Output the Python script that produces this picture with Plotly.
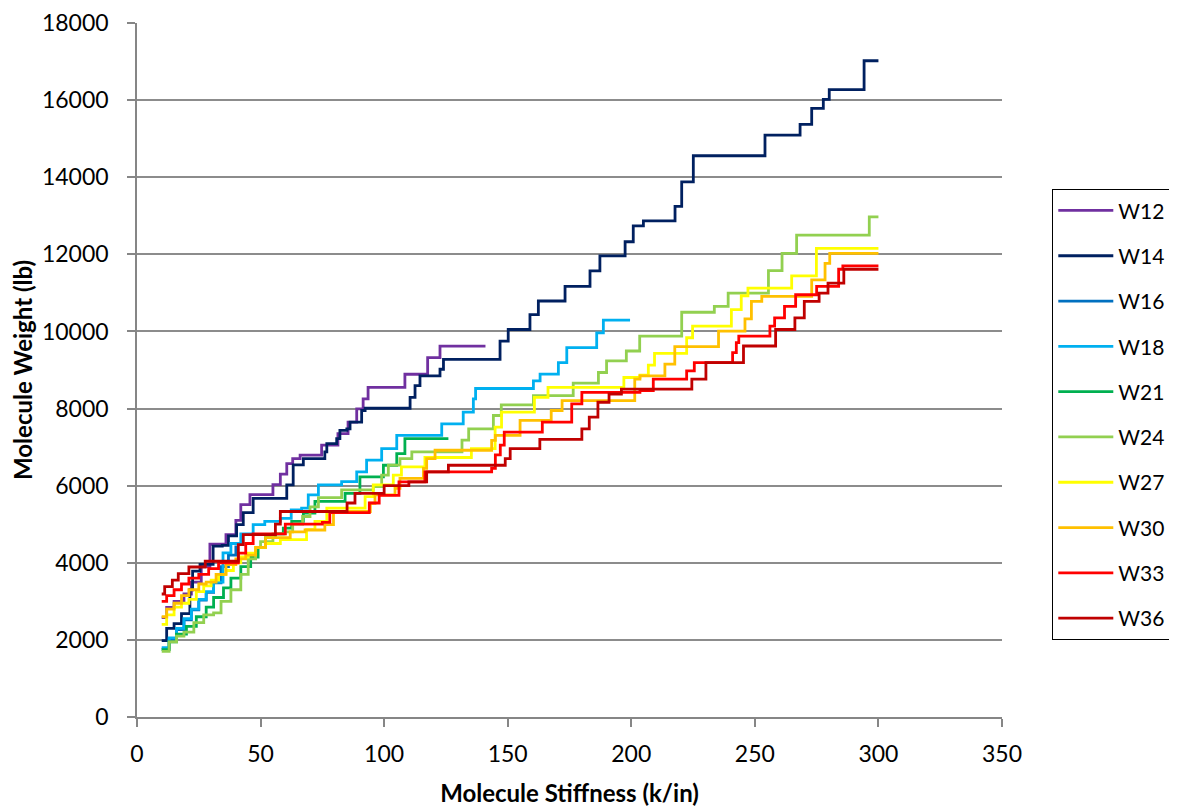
import plotly.graph_objects as go

# ---- data ----
w12_x = [10, 12, 15, 19, 22, 26, 29.5, 36, 40, 42, 45.7, 55, 58, 60.6, 63, 66, 74.7, 81.3, 85.4, 88.9, 91.5, 93.5, 108.4, 117.6, 122.6, 141]
w12_y = [2580, 2840, 3000, 3190, 3500, 3900, 4480, 4730, 5100, 5510, 5770, 6025, 6300, 6574, 6700, 6790, 7050, 7350, 7650, 7990, 8250, 8550, 8890, 9320, 9620, 9620]

w14_x = [10, 12, 15, 18, 21.4, 22.5, 25.5, 30.8, 34.5, 37, 40.3, 43, 47, 60.6, 63.2, 67.3, 76, 76.8, 80.8, 82.1, 84.9, 86.2, 90.9, 92.3, 110.5, 112.5, 114.5, 122.6, 124, 146.9, 150.2, 159, 162.4, 173.2, 183.3, 187.3, 197.5, 200.8, 204.9, 217.7, 220.4, 225.1, 254.1, 268.3, 273, 277.7, 280.1, 294.2, 300]
w14_y = [1980, 2300, 2420, 2680, 3300, 3785, 3960, 4430, 4450, 4700, 4990, 5300, 5670, 6020, 6540, 6700, 6875, 7090, 7218, 7434, 7475, 7648, 7949, 8008, 8291, 8593, 8850, 9020, 9278, 9751, 10051, 10437, 10790, 11168, 11572, 11958, 12326, 12738, 12867, 13244, 13880, 14557, 15090, 15373, 15785, 16017, 16274, 17021, 17021]

w16_x = [10, 13, 16, 19, 22, 25, 28, 31, 34, 37, 40]
w16_y = [1760, 2020, 2270, 2520, 2780, 3030, 3230, 3480, 3900, 4200, 4450]

w18_x = [10, 13, 16, 19, 22, 25, 28, 31, 34.8, 38, 42, 47, 51.7, 58, 62.4, 66.6, 69.3, 73.4, 82.8, 88.9, 92.9, 99, 105.1, 123.3, 132, 136.1, 137, 160.4, 163.1, 170.5, 173.9, 186, 188.7, 199.5]
w18_y = [1800, 2050, 2300, 2550, 2800, 3050, 3250, 3500, 4257, 4500, 4750, 4988, 5073, 5150, 5374, 5415, 5760, 6018, 6103, 6360, 6660, 6960, 7305, 7604, 7905, 8250, 8520, 8720, 8892, 9193, 9579, 9965, 10292, 10292]

w21_x = [10, 13, 16, 20, 24, 28, 31, 35, 38, 42, 46, 49, 52, 56, 59.2, 62.6, 67.3, 72, 84.2, 90.2, 99.7, 105.1, 108.4, 126]
w21_y = [1750, 1950, 2150, 2350, 2600, 2850, 3100, 3350, 3600, 3900, 4150, 4400, 4650, 4750, 4900, 5073, 5290, 5590, 5800, 6230, 6530, 6830, 7220, 7220]

w24_x = [10, 13, 16, 19, 23, 27, 31, 34, 38, 42, 45, 48, 50, 55, 60, 63, 67, 70, 73.4, 82.8, 95.6, 99, 101.7, 106.4, 111.2, 131.5, 134.2, 144.2, 147.4, 160.4, 176.5, 186.7, 190, 198, 203.4, 220.4, 233.6, 239.2, 255.5, 261, 266.9, 296.3, 300]
w24_y = [1700, 1950, 2100, 2200, 2450, 2650, 2700, 3000, 3300, 3700, 4100, 4400, 4550, 4750, 4800, 5000, 5200, 5450, 5690, 5889, 5974, 6275, 6532, 6703, 6875, 7180, 7475, 7820, 8093, 8335, 8660, 8935, 9236, 9493, 9880, 10498, 10652, 10995, 11580, 12025, 12497, 12970, 12970]

w27_x = [10, 12, 15, 18, 21, 24, 27, 30, 33, 36, 39, 42, 45, 48, 52, 58, 68.6, 72, 76.8, 92.3, 95.6, 103.7, 107, 116.5, 135.3, 144.9, 147.5, 160.8, 166.3, 197, 203.5, 206.9, 209.4, 222.4, 224.8, 240.5, 244.5, 247.2, 264.9, 274.9, 300]
w27_y = [2400, 2650, 2850, 2950, 3050, 3250, 3400, 3550, 3700, 3800, 4000, 4150, 4250, 4400, 4500, 4600, 4860, 5073, 5415, 5717, 6018, 6275, 6489, 6730, 6960, 7519, 7905, 8291, 8549, 8806, 8867, 9124, 9433, 9837, 10137, 10566, 10926, 11124, 11442, 12154, 12154]

w30_x = [10, 12, 15, 18, 21, 25, 28, 32, 36, 40, 44, 48, 52, 62, 68, 76, 79.5, 94.4, 96.3, 104.4, 106.4, 115.9, 117.2, 120.6, 143.5, 145, 155, 167.6, 172, 201.4, 203.5, 213.6, 217.6, 235.3, 246, 248.6, 252.8, 273, 278.4, 280.3, 300]
w30_y = [2600, 2800, 2950, 3150, 3300, 3450, 3500, 3700, 3950, 4100, 4200, 4400, 4650, 4800, 4850, 4990, 5330, 5544, 5760, 5930, 6188, 6446, 6703, 6919, 7176, 7305, 7691, 7949, 8206, 8763, 8850, 9150, 9605, 10009, 10326, 10781, 10910, 11338, 11768, 12025, 12025]

w33_x = [10, 12, 15, 18, 21, 25, 29, 33, 41, 44, 47, 60, 75, 78, 94, 98, 106, 116.5, 143.5, 145, 147, 148.6, 164, 175.9, 180, 203.5, 208.9, 222.4, 225.5, 241, 242.5, 243.5, 256.1, 258, 262, 266.5, 275, 283.9, 285.6, 300]
w33_y = [3000, 3150, 3300, 3450, 3600, 3700, 3850, 4000, 4250, 4500, 4750, 5000, 5050, 5300, 5550, 5750, 6100, 6360, 6450, 6800, 7050, 7390, 7650, 8120, 8420, 8464, 8763, 8979, 9193, 9450, 9708, 9880, 10137, 10350, 10652, 10952, 11168, 11613, 11700, 11700]

w36_x = [10, 11.2, 14.3, 16.7, 21, 27.6, 41, 43, 56, 58, 83, 85, 88.2, 100, 110, 117.2, 126, 149, 151, 163, 180, 183, 186.5, 191, 196, 224.5, 230.2, 245.4, 258.4, 266.2, 270, 276, 279.6, 286, 300]
w36_y = [3190, 3380, 3550, 3720, 3890, 4040, 4470, 4730, 5000, 5330, 5330, 5550, 5800, 6000, 6100, 6360, 6530, 6700, 6960, 7200, 7475, 7777, 8163, 8377, 8505, 8763, 9193, 9622, 10050, 10351, 10781, 10995, 11253, 11613, 11613]

names = ["W12", "W14", "W16", "W18", "W21", "W24", "W27", "W30", "W33", "W36"]
xs = [w12_x, w14_x, w16_x, w18_x, w21_x, w24_x, w27_x, w30_x, w33_x, w36_x]
ys = [w12_y, w14_y, w16_y, w18_y, w21_y, w24_y, w27_y, w30_y, w33_y, w36_y]
colors = ["#7030A0", "#002060", "#0070C0", "#00B0F0", "#00B050",
          "#92D050", "#FFFF00", "#FFC000", "#FF0000", "#C00000"]

x_ticks = [0, 50, 100, 150, 200, 250, 300, 350]
y_ticks = [0, 2000, 4000, 6000, 8000, 10000, 12000, 14000, 16000, 18000]

FONT = "Lato, 'Open Sans', sans-serif"
AXIS_GRAY = "#868686"

fig = go.Figure()
for n, x, y, c in zip(names, xs, ys, colors):
    fig.add_trace(go.Scatter(
        x=x, y=y, name=n, mode="lines", line_shape="hv",
        line=dict(color=c, width=2.8), legendgroup=n,
    ))

fig.update_layout(
    width=1177, height=810,
    margin=dict(l=129, r=183, t=15, b=101),
    plot_bgcolor="white", paper_bgcolor="white",
    font=dict(family=FONT, size=23, color="black"),
    showlegend=True,
    legend=dict(
        x=1.0578, y=0.7608, xanchor="left", yanchor="top",
        bordercolor="black", borderwidth=1.3,
        font=dict(family=FONT, size=21, color="black"),
        tracegroupgap=15, traceorder="grouped",
        itemwidth=55,
    ),
    xaxis=dict(
        range=[0, 350], tickvals=x_ticks, ticktext=[str(v) for v in x_ticks],
        showgrid=False, zeroline=False, automargin=False,
        showline=True, linecolor=AXIS_GRAY, linewidth=1.6,
        ticks="outside", ticklen=8, tickcolor=AXIS_GRAY, tickwidth=1.6,
        tickfont=dict(family=FONT, size=23),
        ticklabelstandoff=8,
        title=dict(text="<b>Molecule Stiffness (k/in)</b>", font=dict(family=FONT, size=24), standoff=19),
    ),
    yaxis=dict(
        range=[0, 18000], tickvals=y_ticks, ticktext=[str(v) for v in y_ticks],
        showgrid=True, gridcolor="#8C8C8C", gridwidth=1.8, zeroline=False, automargin=False,
        showline=True, linecolor=AXIS_GRAY, linewidth=1.6,
        ticks="outside", ticklen=8, tickcolor=AXIS_GRAY, tickwidth=1.6,
        tickfont=dict(family=FONT, size=23),
        ticklabelstandoff=14, ticklabeloverflow="allow",
        title=dict(text="<b>Molecule Weight (lb)</b>", font=dict(family=FONT, size=24), standoff=8),
    ),
)

fig.write_html("out.html")
